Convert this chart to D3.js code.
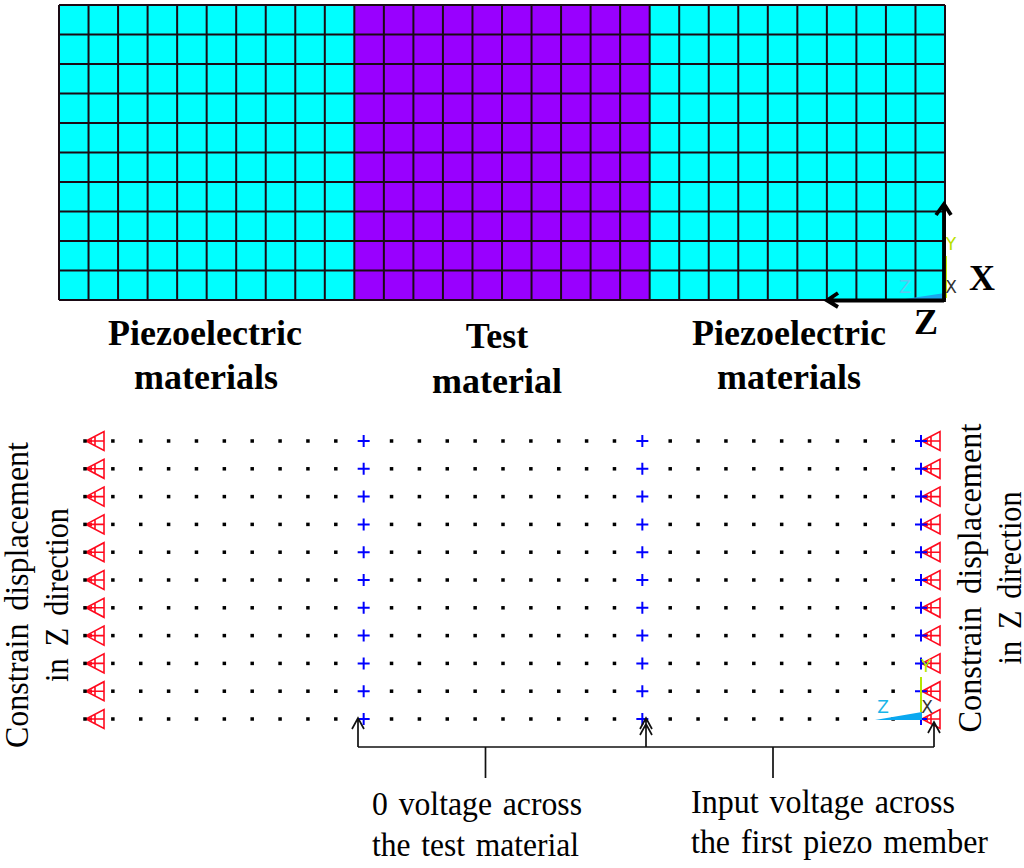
<!DOCTYPE html>
<html lang="en">
<head>
    <meta charset="UTF-8" />
    <title>Piezoelectric mesh and boundary conditions</title>
    <script src="https://d3js.org/d3.v7.min.js"></script>
    <style>
        html, body { margin: 0; padding: 0; background: #fff; }
        svg { display: block; }
        text { font-family: "Liberation Serif", serif; fill: #000; }
        .bold { font-weight: bold; font-size: 36px; }
        .note { font-size: 33.5px; word-spacing: 3px; }
        .side { font-size: 34px; word-spacing: 5px; }
        .triad { font-family: "DejaVu Sans", sans-serif; font-size: 17px; }
    </style>
</head>
<body>
    <div id="chart"></div>
    <script>
        // mesh: column ranges per material, 10 rows
        const materialStart = [0, 10, 20];
        const materialEnd = [10, 20, 30];
        const materialColor = ['#00ffff', '#9900ff', '#00ffff'];
        const meshColumns = d3.range(31);
        const meshRows = d3.range(11);

        // nodes in the lower drawing
        const nodeColumns = d3.range(31);
        const nodeRows = d3.range(11);
        const voltageColumns = [10, 20, 30];
        const constrainedColumns = [0, 30];

        const boldTexts = ['Piezoelectric', 'materials', 'Test', 'material', 'Piezoelectric', 'materials', 'X', 'Z'];
        const noteTexts = ['0 voltage across', 'the test material', 'Input voltage across', 'the first piezo member'];
        const sideTexts = ['Constrain displacement', 'in Z direction', 'Constrain displacement', 'in Z direction'];

        // where the texts go
        const boldPos = [[205, 345], [206, 389], [497, 348], [497, 393], [789, 345], [789, 389], [982, 290], [926, 334]];
        const notePos = [[372, 815, 210], [372, 856, 207], [691, 813, 264], [691, 853, 297]];
        const sidePos = [[28, 595, 306], [68, 595, 174], [981, 578, 309], [1021, 578, 173]];

        const svg = d3.select('#chart').append('svg')
            .attr('width', 1024)
            .attr('height', 868);

        const meshX = d3.scaleLinear().domain([0, 30]).range([59, 945]);
        const meshY = d3.scaleLinear().domain([0, 10]).range([5, 300]);
        const nodeX = d3.scaleLinear().domain([0, 30]).range([85, 921]);
        const nodeY = d3.scaleLinear().domain([0, 10]).range([441, 719]);

        // top mesh
        svg.append('g').selectAll('rect')
            .data(materialStart)
            .enter().append('rect')
            .attr('x', d => meshX(d))
            .attr('y', meshY(0))
            .attr('width', (d, i) => meshX(materialEnd[i]) - meshX(d))
            .attr('height', meshY(10) - meshY(0))
            .attr('fill', (d, i) => materialColor[i]);

        const grid = svg.append('g').attr('stroke', '#1a0a14').attr('stroke-width', 2);
        grid.selectAll('.v').data(meshColumns).enter().append('line')
            .attr('x1', d => meshX(d)).attr('x2', d => meshX(d))
            .attr('y1', meshY(0)).attr('y2', meshY(10));
        grid.selectAll('.h').data(meshRows).enter().append('line')
            .attr('x1', meshX(0)).attr('x2', meshX(30))
            .attr('y1', d => meshY(d)).attr('y2', d => meshY(d));

        // small triad drawn by the FE package, top
        svg.append('path').attr('d', 'M905 299L945 299L945 293Z').attr('fill', '#1aa7ee');
        svg.append('line').attr('x1', 946).attr('x2', 946).attr('y1', 256).attr('y2', 298)
            .attr('stroke', '#c4ef00').attr('stroke-width', 2);
        svg.append('text').attr('class', 'triad').attr('x', 951).attr('y', 250)
            .attr('text-anchor', 'middle').style('fill', '#b8e000').text('Y');
        svg.append('text').attr('class', 'triad').attr('x', 951).attr('y', 293)
            .attr('text-anchor', 'middle').style('fill', '#333').text('X');
        svg.append('text').attr('class', 'triad').attr('x', 905).attr('y', 293)
            .attr('text-anchor', 'middle').style('fill', '#5cc8f0').text('Z');

        // thick black axes arrows
        const thick = svg.append('g').attr('fill', 'none').attr('stroke', '#000')
            .attr('stroke-width', 3.8);
        thick.append('path').attr('d', 'M944 302V204M936 215L944 204L951 215');
        thick.append('path').attr('d', 'M944 300.5H827M838 293L827 300.5L838 307');

        // nodes
        const nodes = [];
        nodeRows.forEach(r => nodeColumns.forEach(c => nodes.push({ r, c })));

        // displacement constraint triangles
        const triangles = svg.append('g').selectAll('g')
            .data(nodes.filter(d => constrainedColumns.includes(d.c)))
            .enter().append('g')
            .attr('transform', d => `translate(${nodeX(d.c)},${nodeY(d.r)})`);
        triangles.append('path')
            .attr('d', 'M1 0L19 -9.5V9.5ZM1 0H19M10 -4.5V4.5')
            .attr('fill', 'none')
            .attr('stroke', '#ff0a1e')
            .attr('stroke-width', 1.6);
        triangles.append('path')
            .attr('d', 'M1 0L7 -2V2Z')
            .attr('fill', '#ff0a1e');

        svg.append('g').selectAll('rect')
            .data(nodes.filter(d => !voltageColumns.includes(d.c)))
            .enter().append('rect')
            .attr('x', d => nodeX(d.c) - 1.75)
            .attr('y', d => nodeY(d.r) - 1.75)
            .attr('width', 3.5)
            .attr('height', 3.5)
            .attr('fill', '#000');

        // voltage plus signs
        svg.append('g').selectAll('path')
            .data(nodes.filter(d => voltageColumns.includes(d.c)))
            .enter().append('path')
            .attr('transform', d => `translate(${nodeX(d.c)},${nodeY(d.r)})`)
            .attr('d', 'M-6 0H6M0 -6V6')
            .attr('stroke', '#0000ff')
            .attr('stroke-width', 2);

        // small triad, bottom
        svg.append('path').attr('d', 'M875 720L922 712L922 720Z').attr('fill', '#0aa8f0');
        svg.append('line').attr('x1', 921).attr('x2', 921).attr('y1', 677).attr('y2', 712)
            .attr('stroke', '#b4e600').attr('stroke-width', 2);
        svg.append('text').attr('class', 'triad').attr('x', 926).attr('y', 672)
            .attr('text-anchor', 'middle').style('fill', '#b4e600').text('Y');
        svg.append('text').attr('class', 'triad').attr('x', 927).attr('y', 713)
            .attr('text-anchor', 'middle').style('fill', '#333').text('X');
        svg.append('text').attr('class', 'triad').attr('x', 883).attr('y', 713)
            .attr('text-anchor', 'middle').style('fill', '#19b5e8').text('Z');

        // bracket with arrows
        const bracket = svg.append('g').attr('fill', 'none').attr('stroke', '#111')
            .attr('stroke-width', 1.7);
        bracket.append('path').attr('d', 'M358 747H934');
        bracket.append('path').attr('d', 'M358 747V718M352 729L358 718L364 729');
        bracket.append('path').attr('d', 'M646 747V718M640 729L646 718L652 729M640 735L646 724L652 735');
        bracket.append('path').attr('d', 'M934 747V722M928 733L934 722L940 733');
        bracket.append('path').attr('d', 'M485.5 747V778M773 747V778');

        // labels
        svg.append('g').selectAll('text')
            .data(boldTexts)
            .enter().append('text')
            .attr('class', 'bold')
            .attr('x', (d, i) => boldPos[i][0])
            .attr('y', (d, i) => boldPos[i][1])
            .attr('text-anchor', 'middle')
            .text(d => d);

        svg.append('g').selectAll('text')
            .data(noteTexts)
            .enter().append('text')
            .attr('class', 'note')
            .attr('x', (d, i) => notePos[i][0])
            .attr('y', (d, i) => notePos[i][1])
            .attr('textLength', (d, i) => notePos[i][2])
            .attr('lengthAdjust', 'spacingAndGlyphs')
            .text(d => d);

        svg.append('g').selectAll('text')
            .data(sideTexts)
            .enter().append('text')
            .attr('class', 'side')
            .attr('transform', (d, i) => `translate(${sidePos[i][0]},${sidePos[i][1]}) rotate(-90)`)
            .attr('text-anchor', 'middle')
            .attr('textLength', (d, i) => sidePos[i][2])
            .attr('lengthAdjust', 'spacingAndGlyphs')
            .text(d => d);
    </script>
</body>
</html>
